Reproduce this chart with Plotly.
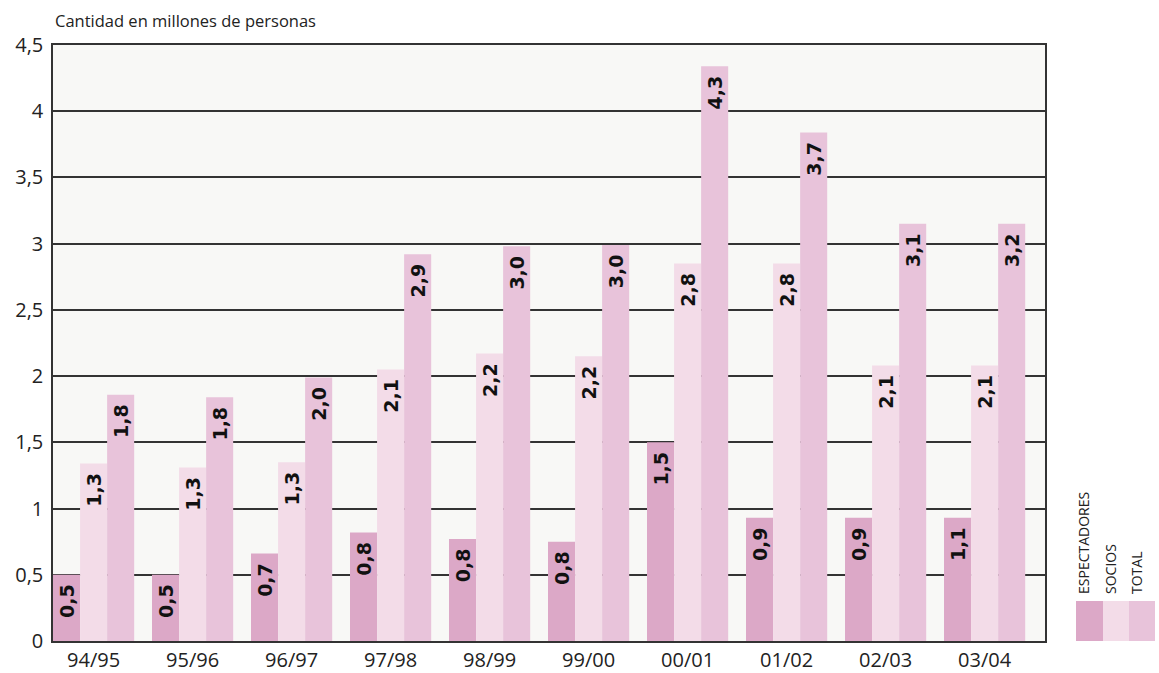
import plotly.graph_objects as go

temporadas = ["94/95", "95/96", "96/97", "97/98", "98/99", "99/00", "00/01", "01/02", "02/03", "03/04"]
espectadores = [0.50, 0.50, 0.66, 0.82, 0.77, 0.75, 1.50, 0.93, 0.93, 0.93]
socios = [1.34, 1.31, 1.35, 2.05, 2.17, 2.15, 2.85, 2.85, 2.08, 2.08]
total = [1.86, 1.84, 1.99, 2.92, 2.98, 2.99, 4.34, 3.84, 3.15, 3.15]

lab_espectadores = ["0,5", "0,5", "0,7", "0,8", "0,8", "0,8", "1,5", "0,9", "0,9", "1,1"]
lab_socios = ["1,3", "1,3", "1,3", "2,1", "2,2", "2,2", "2,8", "2,8", "2,1", "2,1"]
lab_total = ["1,8", "1,8", "2,0", "2,9", "3,0", "3,0", "4,3", "3,7", "3,1", "3,2"]

series = [
    ("ESPECTADORES", espectadores, lab_espectadores, "#dca8c7"),
    ("SOCIOS", socios, lab_socios, "#f3dce8"),
    ("TOTAL", total, lab_total, "#e8c3da"),
]

fig = go.Figure()
for name, vals, labs, col in series:
    fig.add_trace(go.Bar(
        x=temporadas, y=vals, name=name,
        text=[s + "\u00a0" for s in labs],
        marker=dict(color=col, line=dict(width=0)),
        textposition="inside", insidetextanchor="end", textangle=-90,
        constraintext="none",
        textfont=dict(family="DejaVu Sans", size=19, color="#111111", weight="bold"),
        hoverinfo="skip",
    ))

L, R, T, B = 53, 114, 45, 32
W, H = 1159, 673

fig.update_layout(
    width=W, height=H,
    margin=dict(l=L, r=R, t=T, b=B, autoexpand=False),
    barmode="group", bargap=0.18, bargroupgap=0,
    separators=",.",
    paper_bgcolor="white", plot_bgcolor="#f8f8f6",
    showlegend=False,
    font=dict(family="Open Sans", color="#222222"),
    xaxis=dict(type="category", range=[-0.41, 9.61], showgrid=False, automargin=False,
               tickfont=dict(size=20, color="#222222"), ticks="",
               showline=True, linecolor="#333333", linewidth=1.5, mirror=True),
    yaxis=dict(range=[0, 4.5], dtick=0.5, tick0=0, showgrid=True, automargin=False,
               gridcolor="#333333", gridwidth=1.5,
               tickfont=dict(size=20, color="#222222"), ticks="",
               showline=True, linecolor="#333333", linewidth=1.5, mirror=True,
               zeroline=False, ticklabelstandoff=4),
)

fig.add_annotation(text="Cantidad en millones de personas", xref="paper", yref="paper",
                   x=0.0, y=1.0, yshift=11, xanchor="left", yanchor="bottom",
                   showarrow=False, font=dict(size=16.5, color="#222222"))

# custom legend
swatch_x = [1076, 1103, 1129, 1155]
pw = W - L - R
ph = H - T - B
def px2paper_x(px):
    return (px - L) / pw
def py2paper_y(py):
    return (H - B - py) / ph

for i, (name, vals, labs, col) in enumerate(series):
    fig.add_shape(type="rect", xref="paper", yref="paper",
                  x0=px2paper_x(swatch_x[i]), x1=px2paper_x(swatch_x[i + 1]),
                  y0=py2paper_y(641), y1=py2paper_y(601),
                  fillcolor=col, line=dict(width=0), layer="above")
    fig.add_annotation(text=name, xref="paper", yref="paper",
                       x=px2paper_x(swatch_x[i] + 7), y=py2paper_y(596),
                       xanchor="center", yanchor="bottom", textangle=-90,
                       showarrow=False, font=dict(size=14, color="#222222"))

fig.write_html("out.html", config={"displayModeBar": False},
               post_script="document.body.style.margin='0';document.body.style.padding='0';document.body.style.overflow='hidden';")
